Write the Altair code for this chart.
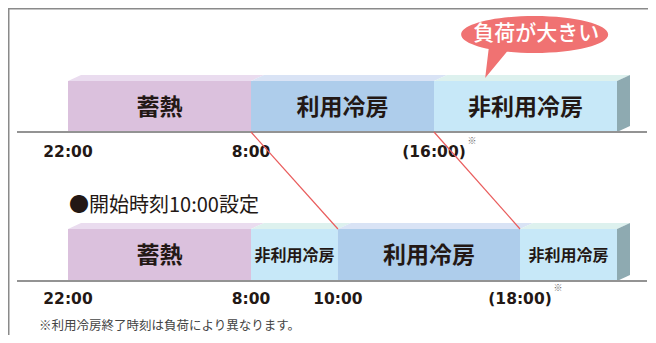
import altair as alt
import pandas as pd

# ---------------- data ----------------
ROW_TITLE = "●開始時刻10:00設定"
FOOTNOTE = "※利用冷房終了時刻は負荷により異なります。"
BUBBLE_TEXT = "負荷が大きい"

# segments of each timeline (positions in schematic "slot" units)
SEG_ROW = [0, 0, 0, 1, 1, 1, 1]
SEG_NAME = ["蓄熱", "利用冷房", "非利用冷房", "蓄熱", "非利用冷房", "利用冷房", "非利用冷房"]
SEG_START = [0.0, 1.0, 2.0, 0.0, 1.0, 1.475, 2.47]
SEG_END = [1.0, 2.0, 3.0, 1.0, 1.475, 2.47, 3.0]

# time tick labels
TICK_ROW = [0, 0, 0, 1, 1, 1, 1]
TICK_POS = [0.0, 1.0, 2.0, 0.0, 1.0, 1.475, 2.47]
TICK_TEXT = ["22:00", "8:00", "(16:00)", "22:00", "8:00", "10:00", "(18:00)"]
TICK_NOTE = [False, False, True, False, False, False, True]

# shift of the cooling period (top row boundary -> bottom row boundary)
SHIFT_FROM = [1.0, 2.0]
SHIFT_TO = [1.475, 2.47]

BUBBLE_AT = 2.55  # annotation anchor on the timeline

# ---------------- layout / style ----------------
W, H, MARGIN = 640, 327, 8
PX_PER_SLOT, X0_PAGE = 183.0, 68.0
X_DOMAIN = [(MARGIN - X0_PAGE) / PX_PER_SLOT, (MARGIN + W - X0_PAGE) / PX_PER_SLOT]
Y_DOMAIN = [MARGIN, MARGIN + H]
ROW_FRONT_TOP = [81, 229]
ROW_BOTTOM = [132, 281]
TICK_Y = [152, 299]
DEPTH_X = 13 / PX_PER_SLOT
DEPTH_Y = 6

FRONT = {"蓄熱": "#dbc1dd", "利用冷房": "#aecdeb", "非利用冷房": "#c7e8f8"}
TOPC = {"蓄熱": "#eadcef", "利用冷房": "#d9e3f5", "非利用冷房": "#ddf1ee"}
SIDE = "#8eaab1"
TXT = "#231815"
JP = "Noto Sans CJK JP"

xs = alt.Scale(domain=X_DOMAIN, nice=False, zero=False)
ys = alt.Scale(domain=Y_DOMAIN, reverse=True, nice=False, zero=False)

# ---------------- tables ----------------
seg = pd.DataFrame({"row": SEG_ROW, "name": SEG_NAME, "start": SEG_START, "end": SEG_END})
seg["yt"] = [ROW_FRONT_TOP[r] for r in seg["row"]]
seg["yb"] = [ROW_BOTTOM[r] for r in seg["row"]]
seg["front"] = seg["name"].map(FRONT)
seg["mid"] = (seg["start"] + seg["end"]) / 2
seg["ly"] = (seg["yt"] + seg["yb"]) / 2 + 1
seg["fs"] = [23 if (e - s) > 0.6 else 16 for s, e in zip(seg["start"], seg["end"])]

top_rows = []
for i, r in seg.iterrows():
    yt, c = r["yt"], TOPC[r["name"]]
    pts = [(r["start"], yt, yt), (r["start"] + DEPTH_X, yt - DEPTH_Y, yt),
           (r["end"], yt - DEPTH_Y, yt), (r["end"] + DEPTH_X, yt - DEPTH_Y, yt - DEPTH_Y)]
    for x, a, b in pts:
        top_rows.append({"seg": i, "x": x, "ya": a, "yb": b, "c": c})
top = pd.DataFrame(top_rows)

side_rows = []
for r in range(2):
    end = max(e for e, rr in zip(SEG_END, SEG_ROW) if rr == r)
    side_rows.append({"row": r, "x": end, "ya": ROW_FRONT_TOP[r], "yb": ROW_BOTTOM[r]})
    side_rows.append({"row": r, "x": end + DEPTH_X, "ya": ROW_FRONT_TOP[r] - DEPTH_Y,
                      "yb": ROW_BOTTOM[r] - DEPTH_Y})
side = pd.DataFrame(side_rows)

ticks = pd.DataFrame({"row": TICK_ROW, "pos": TICK_POS, "text": TICK_TEXT, "note": TICK_NOTE})
ticks["y"] = [TICK_Y[r] for r in ticks["row"]]
notes = ticks[ticks["note"]].copy()

shift = pd.DataFrame({"x1": SHIFT_FROM, "x2": SHIFT_TO,
                      "y1": [ROW_BOTTOM[0]] * 2, "y2": [ROW_FRONT_TOP[1]] * 2})
axes_df = pd.DataFrame({"y": ROW_BOTTOM})

# ---------------- layers ----------------
front = alt.Chart(seg).mark_rect().encode(
    x=alt.X("start:Q", scale=xs, axis=None), x2="end:Q",
    y=alt.Y("yt:Q", scale=ys, axis=None), y2="yb:Q",
    color=alt.Color("front:N", scale=None))

topface = alt.Chart(top).mark_area(interpolate="linear").encode(
    x=alt.X("x:Q", scale=xs, axis=None),
    y=alt.Y("ya:Q", scale=ys, axis=None, stack=None), y2="yb:Q",
    color=alt.Color("c:N", scale=None), detail="seg:N")

sideface = alt.Chart(side).mark_area(interpolate="linear", color=SIDE).encode(
    x=alt.X("x:Q", scale=xs, axis=None),
    y=alt.Y("ya:Q", scale=ys, axis=None, stack=None), y2="yb:Q", detail="row:N")

seg_labels = alt.Chart(seg).mark_text(font=JP, fontWeight="bold", color=TXT,
                                      baseline="middle").encode(
    x=alt.X("mid:Q", scale=xs, axis=None), y=alt.Y("ly:Q", scale=ys, axis=None),
    text="name:N", size=alt.Size("fs:Q", scale=None))

axis_lines = alt.Chart(axes_df).mark_rule(color="#939393", strokeWidth=2).encode(
    x=alt.value(9), x2=alt.value(639), y=alt.Y("y:Q", scale=ys, axis=None))

tick_labels = alt.Chart(ticks).mark_text(font="DejaVu Sans", fontWeight="bold", fontSize=15.5,
                                         color=TXT, baseline="middle").encode(
    x=alt.X("pos:Q", scale=xs, axis=None), y=alt.Y("y:Q", scale=ys, axis=None), text="text:N")

note_marks = alt.Chart(notes).mark_text(text="※", fontSize=9, color="#666", dx=38, dy=-11,
                                        font=JP).encode(
    x=alt.X("pos:Q", scale=xs, axis=None), y=alt.Y("y:Q", scale=ys, axis=None))

shift_lines = alt.Chart(shift).mark_rule(color="#e95c5c", strokeWidth=1.2).encode(
    x=alt.X("x1:Q", scale=xs, axis=None), x2="x2:Q",
    y=alt.Y("y1:Q", scale=ys, axis=None), y2="y2:Q")

title = alt.Chart(pd.DataFrame({"t": [ROW_TITLE]})).mark_text(
    font=JP, fontSize=20, color=TXT, align="left", baseline="middle").encode(
    x=alt.value(61), y=alt.value(198), text="t:N")

foot = alt.Chart(pd.DataFrame({"t": [FOOTNOTE]})).mark_text(
    font=JP, fontSize=12.5, color="#444", align="left", baseline="middle").encode(
    x=alt.value(31), y=alt.value(318), text="t:N")

frame_v = alt.Chart(pd.DataFrame({"a": [0]})).mark_rule(color="#8a8a8a", strokeWidth=1.5).encode(
    x=alt.value(0.75), y=alt.value(0), y2=alt.value(H))
frame_h = alt.Chart(pd.DataFrame({"a": [0]})).mark_rule(color="#8a8a8a", strokeWidth=1.5).encode(
    y=alt.value(0.75), x=alt.value(0), x2=alt.value(W))

k = 0.5523
ry = 0.2517
BUBBLE_PATH = (f"M1,0 C1,{ry*k:.4f} {k},{ry} 0,{ry} C{-k},{ry} -1,{ry*k:.4f} -1,0 "
               f"C-1,{-ry*k:.4f} {-k},{-ry} 0,{-ry} C{k},{-ry} 1,{-ry*k:.4f} 1,0 Z "
               "M-0.62,0.15 L-0.33,0.18 L-0.673,0.593 Z")
bubble_df = pd.DataFrame({"x": [BUBBLE_AT], "y": [34.4], "t": [BUBBLE_TEXT]})
bubble = alt.Chart(bubble_df).mark_point(shape=BUBBLE_PATH, size=147 ** 2, filled=True,
                                         color="#f07272", opacity=1, strokeWidth=0).encode(
    x=alt.X("x:Q", scale=xs, axis=None), y=alt.Y("y:Q", scale=ys, axis=None))
bubble_text = alt.Chart(bubble_df).mark_text(font=JP, fontSize=21, fontWeight=500, color="white",
                                             baseline="middle", dx=1.5).encode(
    x=alt.X("x:Q", scale=xs, axis=None), y=alt.Y("y:Q", scale=ys, axis=None), text="t:N")

chart = alt.layer(
    frame_v, frame_h, front, topface, sideface, seg_labels, axis_lines, tick_labels,
    note_marks, title, foot, shift_lines, bubble, bubble_text
).properties(width=W, height=H, autosize=alt.AutoSizeParams(type="none"), padding=0
).configure_view(stroke=None)

chart.save("out.html", embed_options={"renderer": "svg", "actions": False})
